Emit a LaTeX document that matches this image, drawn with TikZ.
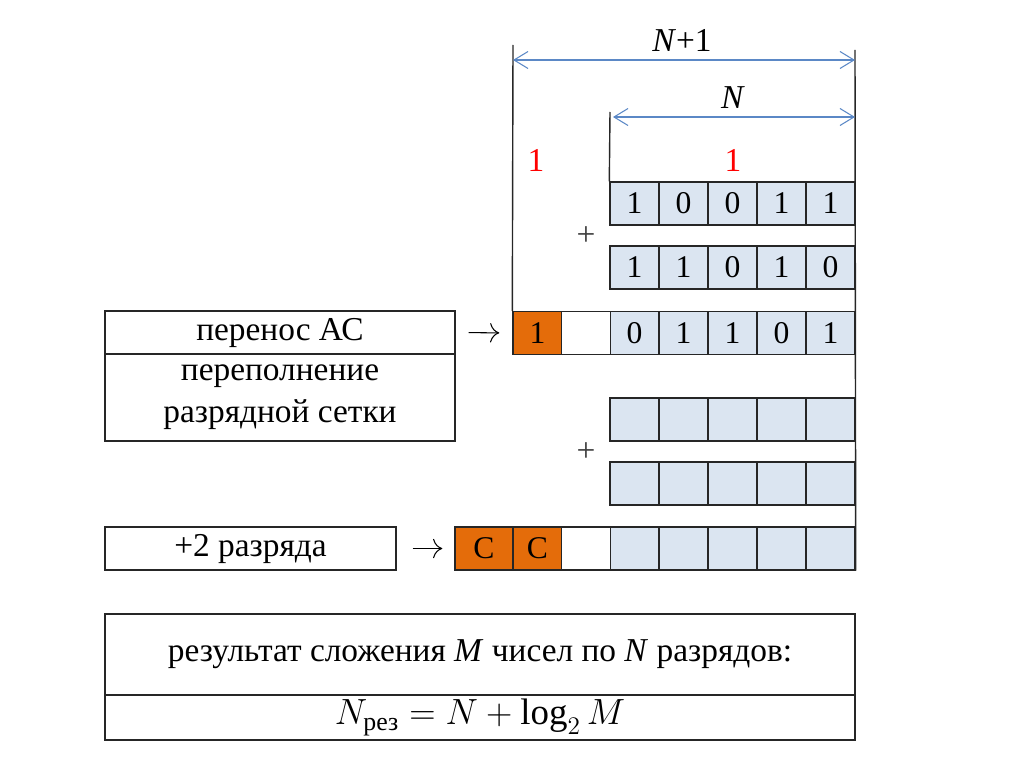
\documentclass[tikz,border=0pt]{standalone}
\usepackage{fontspec}
\setmainfont{Liberation Serif}
\usepackage{amsmath}
\usetikzlibrary{arrows.meta, positioning}
\definecolor{cellblue}{HTML}{DBE5F1}
\definecolor{carry}{HTML}{E46C0A}
\definecolor{dimblue}{HTML}{5B88C6}

\begin{document}
\begin{tikzpicture}[
  x=0.02cm, y=-0.02cm,
  cell/.style={draw=black!85, fill=cellblue, line width=0.8pt, minimum width=0.98cm,
               minimum height=0.86cm, inner sep=0pt, font=\fontsize{18}{20}\selectfont},
  ocell/.style={cell, fill=carry},
  wcell/.style={cell, fill=white},
  lbox/.style={draw=black!85, line width=0.8pt, minimum height=0.86cm, inner sep=2pt,
               align=center, font=\fontsize{19}{24}\selectfont},
  dim/.style={{Straight Barb[length=2.8mm,width=3.4mm]}-{Straight Barb[length=2.8mm,width=3.4mm]},
              draw=dimblue, line width=0.6pt},
  ext/.style={black!85, line width=0.8pt},
  txtarr/.style={-{To[scale=1.8]}, line width=0.6pt},
  lbl/.style={font=\fontsize{19}{22}\selectfont},
]
\useasboundingbox (0,0) rectangle (1024,767);

%% ---- Rows of digits ----
\foreach \v [count=\i] in {1,0,0,1,1}
  \node[cell] (a\i) at (585.5+49*\i, 203.5) {\v};
\foreach \v [count=\i] in {1,1,0,1,0}
  \node[cell] (b\i) at (585.5+49*\i, 267.5) {\v};
\foreach \v [count=\i] in {0,1,1,0,1}
  \node[cell] (c\i) at (585.5+49*\i, 333) {\v};
\node[ocell] (c0) at (537.5, 333) {1};
\node[wcell] (cw) at (586, 333) {};

%% ---- Empty rows ----
\foreach \i in {1,...,5} {
  \node[cell] (d\i) at (585.5+49*\i, 419.5) {};
  \node[cell] (e\i) at (585.5+49*\i, 483.5) {};
  \node[cell] (f\i) at (585.5+49*\i, 548.5) {};
}
\node[ocell, minimum width=1.16cm] (f00) at (484, 548.5) {C};
\node[ocell] (f0) at (537.5, 548.5) {C};
\node[wcell] (fw) at (586, 548.5) {};

%% ---- Plus signs and carries ----
\node[lbl, text=black!75] (p1) at (586, 236) {+};
\node[lbl, text=black!75] (p2) at (586, 452) {+};
\node[lbl, text=red] (k1) at (536, 160) {1};
\node[lbl, text=red] (k2) at (733, 160) {1};

%% ---- Extension lines ----
\coordinate (oTop) at (513, 45);
\coordinate (rTop) at (855, 50);
\coordinate (iTop) at (610, 112);
\draw[ext] (oTop) -- (c0.north west);
\draw[ext] (rTop) -- (f5.south east);
\draw[ext] (iTop) -- (a1.north west);

%% ---- Widths ----
\coordinate (w1L) at (513, 60);
\coordinate (w1R) at (855, 60);
\coordinate (w2L) at (613, 117);
\coordinate (w2R) at (855, 117);
\draw[dim] (w1L) -- (w1R);
\draw[dim] (w2L) -- (w2R);
\node[lbl] (lW1) at (682, 40) {\textit{N}+1};
\node[lbl] (lW2) at (733, 98) {\textit{N}};

%% ---- Left labels ----
\node[lbox, minimum width=7cm] (carryAC) at (280, 332.5) {перенос АС};
\node[lbox, minimum width=7cm, minimum height=1.74cm] (ovf) at (280, 397.5)
  {переполнение\\разрядной сетки};
\node[lbox, minimum width=5.82cm, text depth=0.3em] (plus2) at (250.5, 548.5) {+2 разряда};
\draw[txtarr, shorten <=0.26cm, shorten >=0.26cm] (carryAC.east) -- (c0.west);
\draw[txtarr, shorten <=0.32cm, shorten >=0.24cm] (plus2.east) -- (f00.west);

%% ---- Result ----
\node[lbox, minimum width=15cm, minimum height=1.62cm] (res) at (480, 654.5)
  {результат сложения \textit{M} чисел по \textit{N} разрядов:};
\node[lbox, minimum width=15cm, minimum height=0.9cm, font=\fontsize{21}{24}\selectfont]
  (frm) at (480, 717.5) {$N_{\text{рез}} = N + \log_2 M$};
\end{tikzpicture}
\end{document}
